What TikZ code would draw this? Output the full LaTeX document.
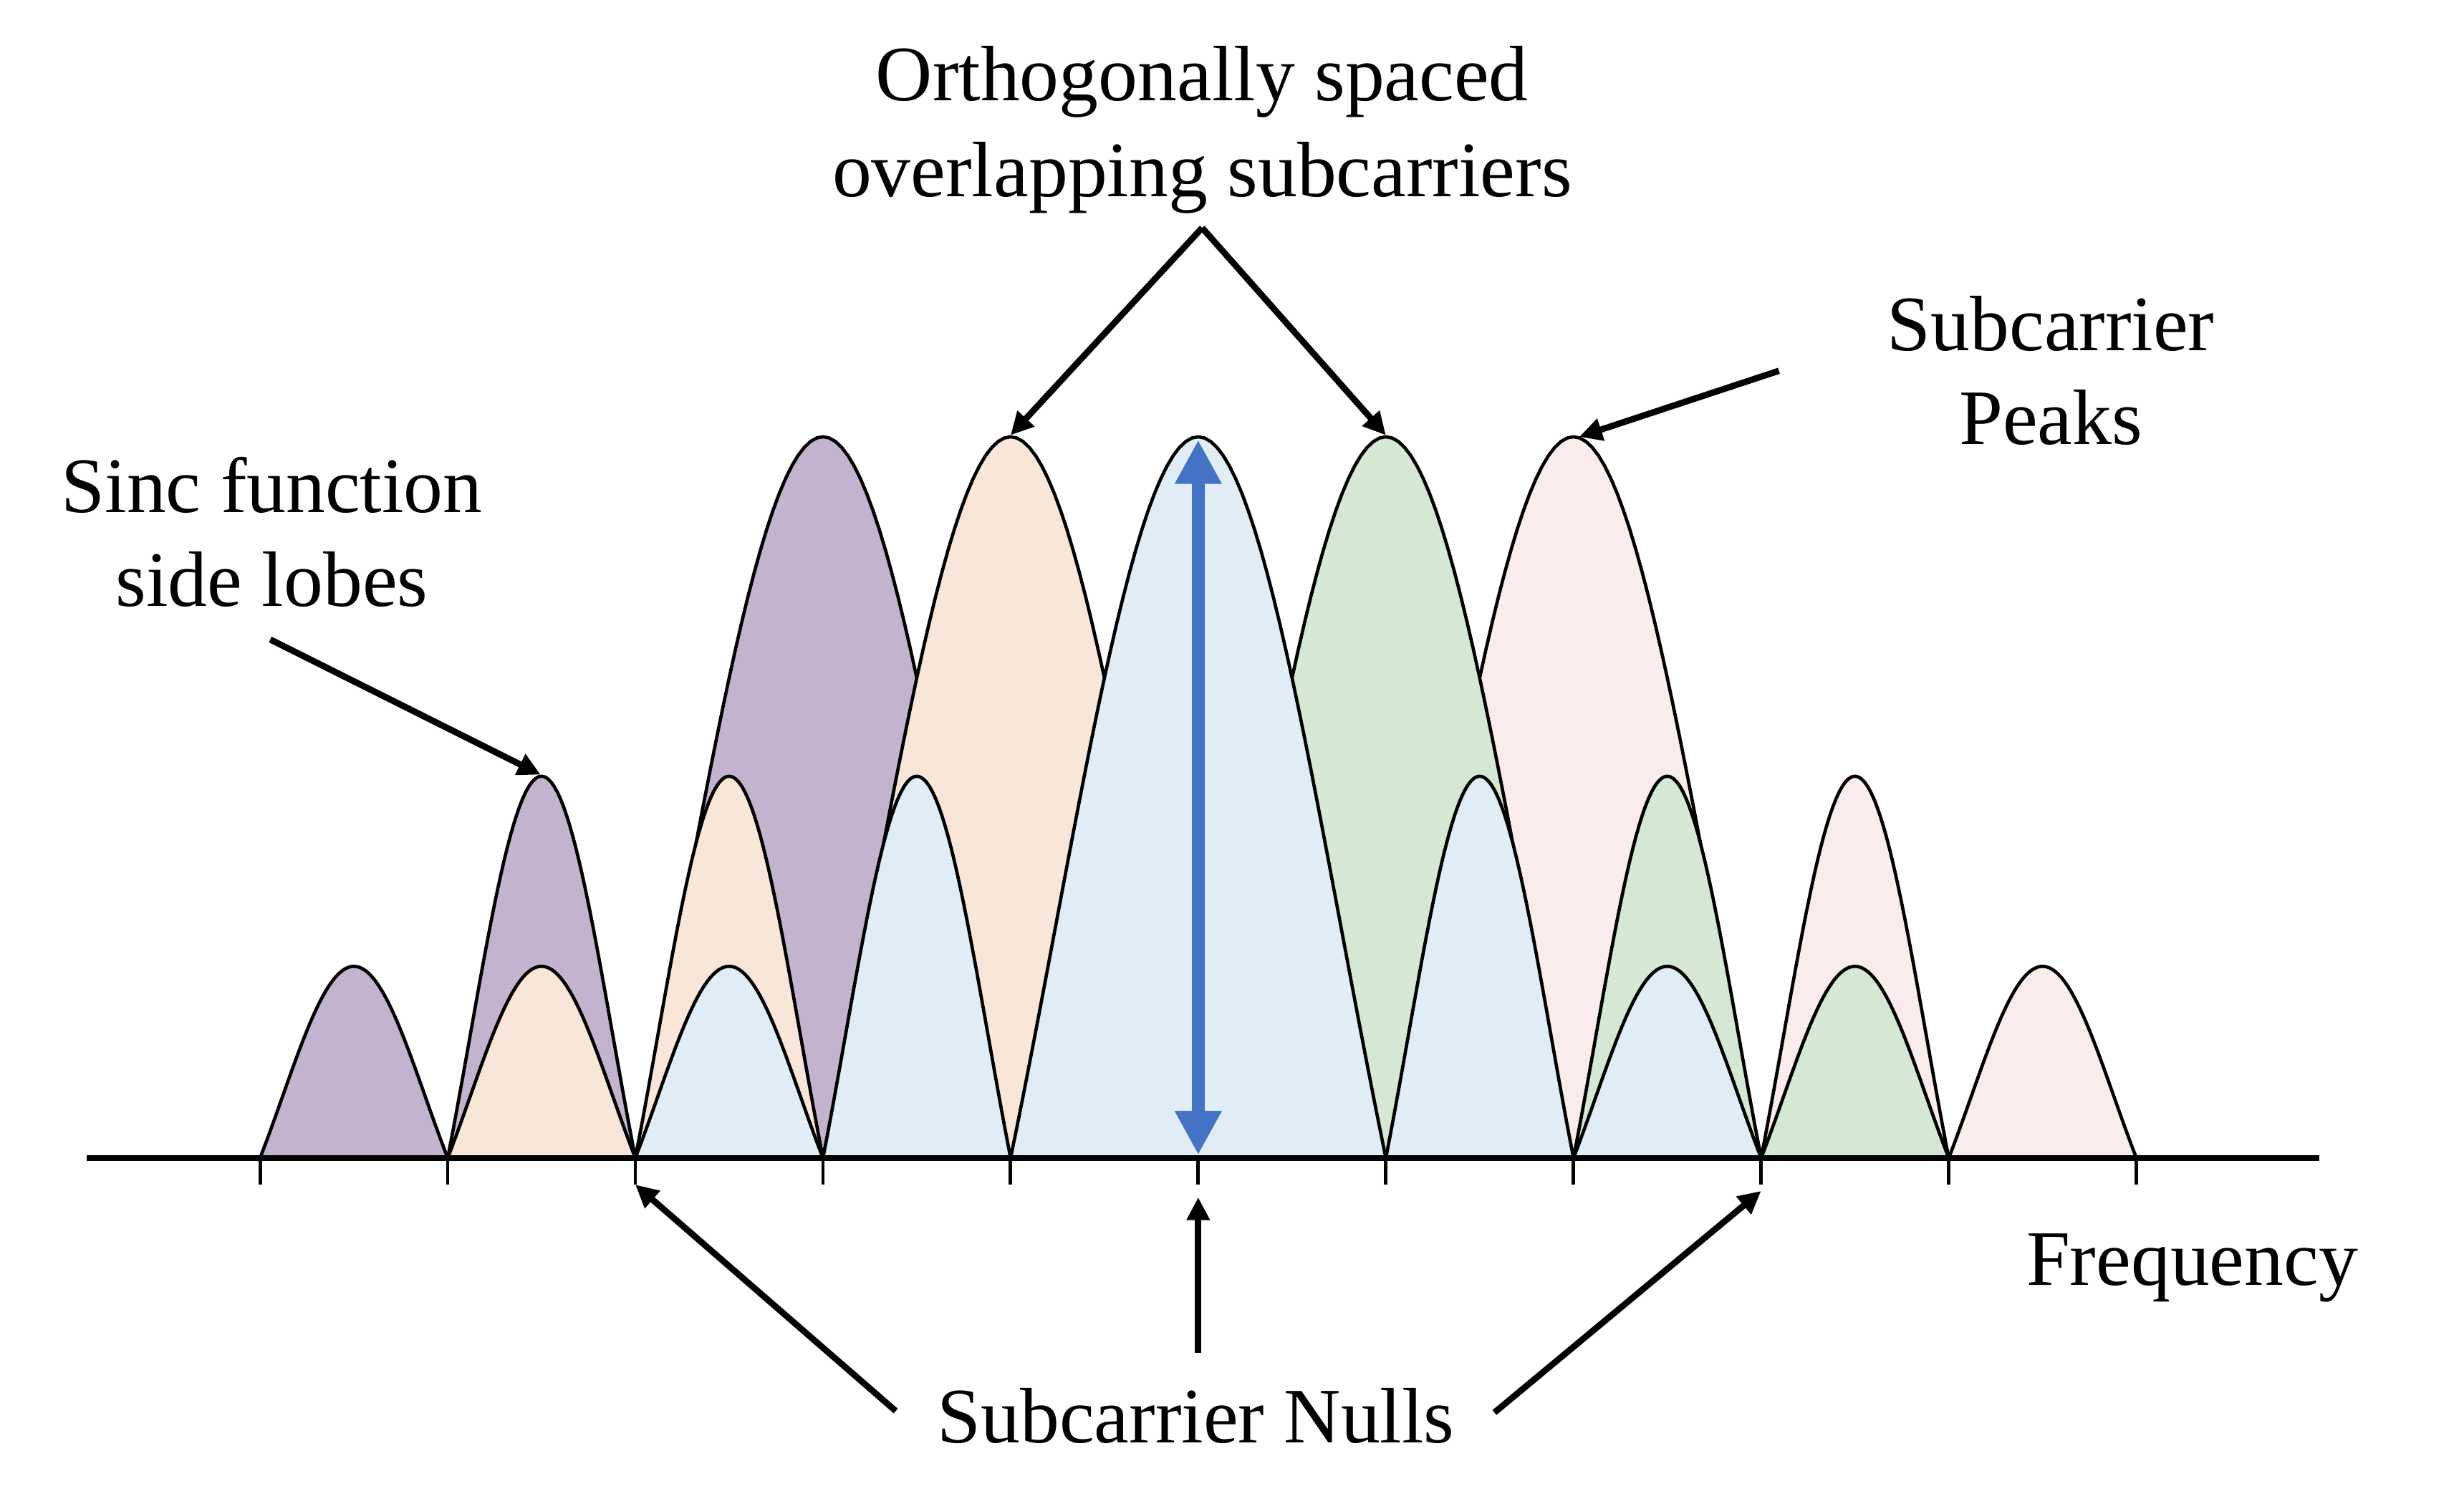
\documentclass[tikz,border=0pt]{standalone}
\usepackage{fontspec}
\setmainfont{Liberation Serif}
\usetikzlibrary{arrows.meta}
\definecolor{cpurple}{RGB}{196,179,206}
\definecolor{corange}{RGB}{249,230,217}
\definecolor{cblue}{RGB}{224,237,247}
\definecolor{cgreen}{RGB}{212,232,211}
\definecolor{cpink}{RGB}{251,236,236}
\definecolor{arrowblue}{RGB}{68,114,196}
% #1 colour, #2 left x, #3 width, #4 height
\newcommand\sclobe[4]{%
  \filldraw[lobe,fill=#1] plot[domain=0:180,samples=61]
    ({#2+#3*(\x/180)},{737-#4*sin(\x)*(0.8+0.2*sin(\x))}) -- cycle;}
\begin{document}
\begin{tikzpicture}[x=1pt,y=-1pt,
  lobe/.style={draw=black,line width=2.1pt,line join=round},
  axisline/.style={draw=black,line width=3.3pt},
  tickmark/.style={draw=black,line width=2.2pt},
  callout/.style={draw=black,line width=4pt,-{Triangle[length=14.5pt,width=14pt]}},
  barrow/.style={draw=arrowblue,line width=8.5pt,
     {Triangle[length=28pt,width=28pt]}-{Triangle[length=28pt,width=28pt]}},
  lbl/.style={font=\fontsize{50}{60}\selectfont,anchor=base,inner sep=0pt}]
\useasboundingbox (0,0) rectangle (1568,960);
\fill[white] (0,0) rectangle (1568,960);
% purple subcarrier
\sclobe{cpurple}{165.5}{119.4}{122}
\sclobe{cpurple}{284.9}{119.4}{243}
\sclobe{cpurple}{404.3}{238.8}{459}
% orange subcarrier
\sclobe{corange}{284.9}{119.4}{122}
\sclobe{corange}{404.3}{119.4}{243}
\sclobe{corange}{523.7}{238.8}{459}
% pink subcarrier
\sclobe{cpink}{881.9}{238.8}{459}
\sclobe{cpink}{1120.7}{119.4}{243}
\sclobe{cpink}{1240.1}{119.4}{122}
% green subcarrier
\sclobe{cgreen}{762.5}{238.8}{459}
\sclobe{cgreen}{1001.3}{119.4}{243}
\sclobe{cgreen}{1120.7}{119.4}{122}
% blue subcarrier
\sclobe{cblue}{404.3}{119.4}{122}
\sclobe{cblue}{523.7}{119.4}{243}
\sclobe{cblue}{643.1}{238.8}{459}
\sclobe{cblue}{881.9}{119.4}{243}
\sclobe{cblue}{1001.3}{119.4}{122}
% axis and ticks
\draw[axisline] (55,737) -- (1476,737);
\foreach \k in {0,...,10}{
  \draw[tickmark] ({165.5+119.4*\k},737) -- ({165.5+119.4*\k},754);
}
% named points
\coordinate (pkorange) at (643.1,277);
\coordinate (pkgreen) at (881.9,277);
\coordinate (pkpink) at (1005,278);
\coordinate (pkside) at (344,493);
\coordinate (nullL) at (404.3,754);
\coordinate (nullC) at (762.5,762);
\coordinate (nullR) at (1120.7,758);
\coordinate (bluetop) at (762.5,280);
\coordinate (bluebot) at (762.5,735);
\coordinate (tailtop) at (765,145);
\coordinate (tailpeak) at (1132,236);
\coordinate (tailside) at (172,407);
\coordinate (tailL) at (570,898);
\coordinate (tailC) at (762.5,861);
\coordinate (tailR) at (951,899);
% blue amplitude arrow
\draw[barrow] (bluetop) -- (bluebot);
% callout arrows
\draw[callout] (tailtop) -- (pkorange);
\draw[callout] (tailtop) -- (pkgreen);
\draw[callout] (tailpeak) -- (pkpink);
\draw[callout] (tailside) -- (pkside);
\draw[callout] (tailL) -- (nullL);
\draw[callout] (tailC) -- (nullC);
\draw[callout] (tailR) -- (nullR);
% labels
\node[lbl] (orthoA) at (765,64) {Orthogonally spaced};
\node[lbl] (orthoB) at (765,125) {overlapping subcarriers};
\node[lbl] (peakA) at (1305,223) {Subcarrier};
\node[lbl] (peakB) at (1305,283) {Peaks};
\node[lbl] (sincA) at (173,326) {Sinc function};
\node[lbl] (sincB) at (173,386) {side lobes};
\node[lbl] (nulls) at (761,918) {Subcarrier Nulls};
\node[lbl] (freq) at (1395,818) {Frequency};
\end{tikzpicture}
\end{document}
